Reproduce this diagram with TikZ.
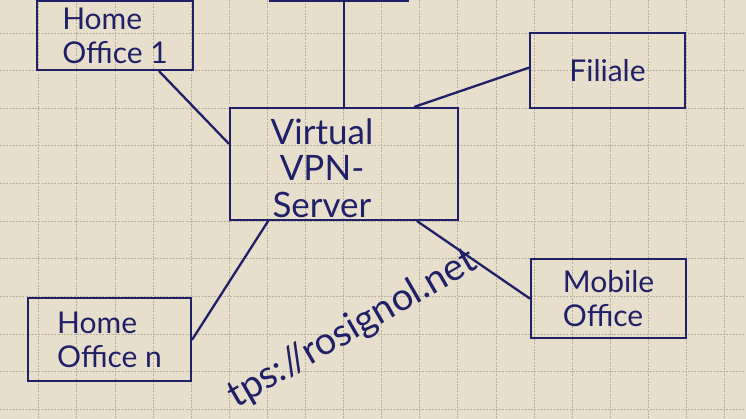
\documentclass[tikz,border=0pt]{standalone}
\usepackage{fontspec}
\setmainfont{Lato}
\usepackage{tikz}
\definecolor{paper}{RGB}{232,222,204}
\definecolor{gridgray}{RGB}{186,176,160}
\definecolor{ink}{RGB}{32,32,104}
\tikzset{
	gridline/.style={gridgray,line width=0.6pt,dash pattern=on 2pt off 1.2pt},
	box/.style={draw=ink,line width=2.5pt,inner sep=0pt,text=ink,align=left,
		font=\fontsize{30}{34}\selectfont},
	link/.style={ink,line width=2.3pt,line cap=round}
}
\begin{document}
\begin{tikzpicture}[x=1pt,y=-1pt]
		\useasboundingbox (0,0) rectangle (746,419);
		\fill[paper] (0,0) rectangle (746,419);
		\foreach \gx in {1,...,19}
		{
			\draw[gridline] ({0.5+\gx*38.1},0) -- ({0.5+\gx*38.1},419);
		}
		\foreach \gy in {1,...,11}
		{
			\draw[gridline] (0,{-4.6+\gy*37.6}) -- (746,{-4.6+\gy*37.6});
		}
		
		\node[box,minimum width=228pt,minimum height=112pt] (srv) at (344,164) {};
		\node[text=ink,align=center,font=\fontsize{35}{36.5}\selectfont] (srvtext) at (322,168) {Virtual\\VPN-\\Server};
		
		\node[box,minimum width=138pt,minimum height=82pt] (top) at (339,-40) {};
		\node[box,minimum width=156pt,minimum height=69pt] (home1) at (115,35.5) {Home\\Office 1};
		\node[box,minimum width=155pt,minimum height=75pt] (fil) at (607.5,70.5) {Filiale};
		\node[box,minimum width=155pt,minimum height=79pt] (mob) at (608.5,298.5) {Mobile\\Office};
		\node[box,minimum width=163pt,minimum height=83pt] (homen) at (109.5,339.5) {Home\\Office n};
		
		\draw[link] (srv.north) -- (srv.north |- top.south);
		\draw[link] (home1.-39) -- (srv.170);
		\draw[link] (srv.39) -- (fil.178);
		\draw[link] (srv.217) -- (homen.east);
		\draw[link] (srv.-38) -- (mob.west);
		
		\node[text=ink,anchor=base,rotate=30,font=\fontsize{38}{40}\selectfont] (url) at (358,338) {tps://rosignol.net};
\end{tikzpicture}
\end{document}
